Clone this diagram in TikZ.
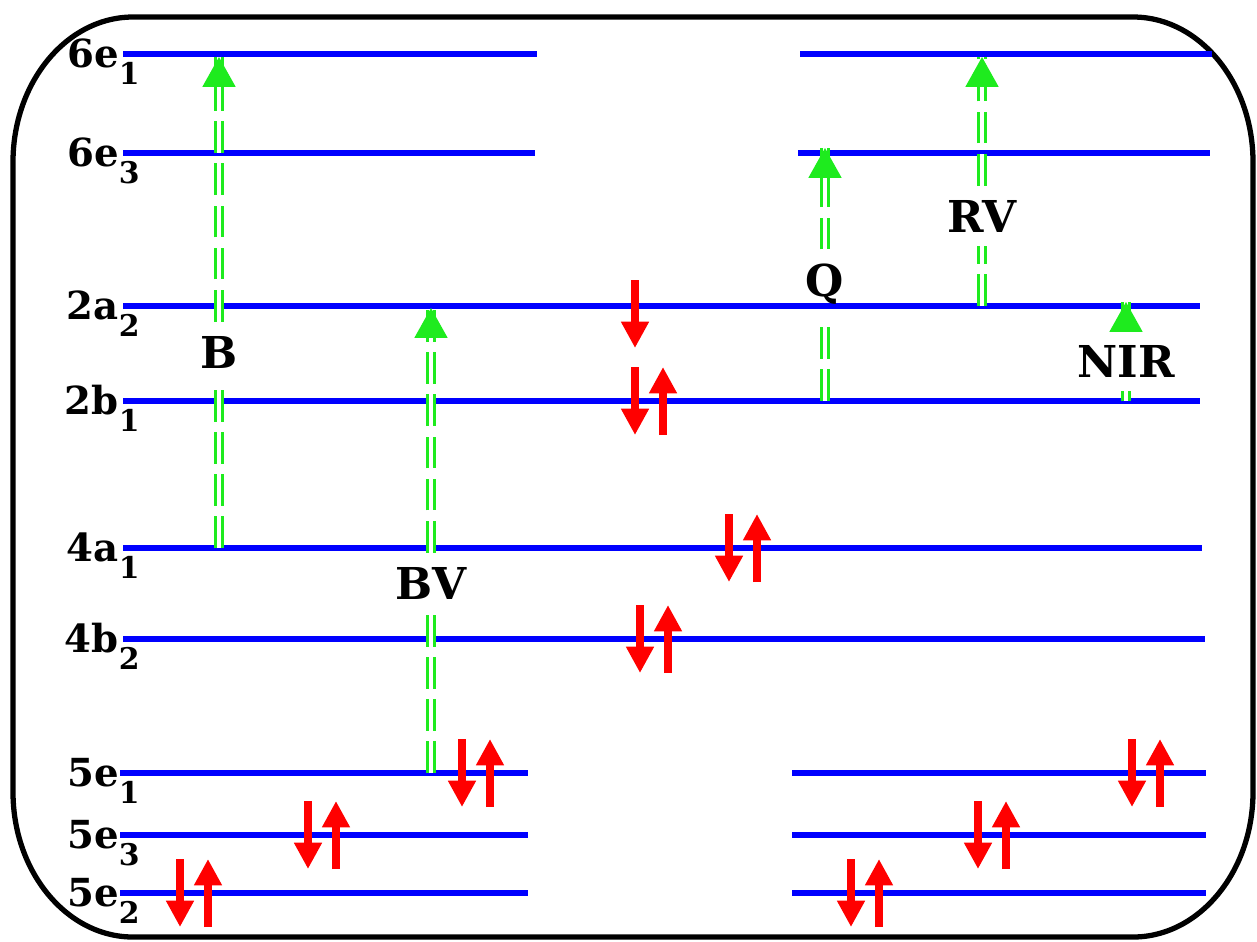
\documentclass[tikz,border=0pt]{standalone}
\usepackage{fontspec}
\setmainfont{DejaVu Serif}
\usepackage{tikz}
\usetikzlibrary{arrows.meta, decorations.markings}

\definecolor{lvlblue}{RGB}{0,0,255}
\definecolor{spinred}{RGB}{255,0,0}
\definecolor{exgreen}{RGB}{30,235,30}

\newcommand{\subsz}{\fontsize{17}{17}\selectfont}

\begin{document}
\begin{tikzpicture}[
  x=0.02cm, y=-0.02cm,
  orbital/.style = {draw=lvlblue, line width=3.8pt},
  lvllab/.style  = {anchor=base east, inner sep=0pt,
                    font=\fontsize{22}{22}\selectfont\bfseries},
  trlab/.style   = {inner xsep=2pt, inner ysep=8pt,
                    font=\fontsize{25}{25}\selectfont\bfseries},
  spin/.style    = {draw=spinred, line width=4.5pt,
                    -{Triangle[length=15pt, width=15pt]}},
  excite/.style  = {draw=exgreen, line width=1.7pt, double=white,
                    double distance=2.5pt, dash pattern=on 18pt off 6pt,
                    postaction={decorate, decoration={markings,
                      mark=at position 1 with
                      {\fill[exgreen] (0pt,0pt) -- (-17pt,9.5pt) -- (-17pt,-9.5pt) -- cycle;}}}}
]
  \useasboundingbox (0,0) rectangle (1257,941);

  % frame
  \draw[line width=3pt]
    (13,162) .. controls (13,82) and (67,17) .. (133,17)
    -- (1133,17) .. controls (1199,17) and (1253,82) .. (1253,162)
    -- (1253,792) .. controls (1253,872) and (1199,937) .. (1133,937)
    -- (133,937) .. controls (67,937) and (13,872) .. (13,792) -- cycle;

  % orbital levels
  \draw[orbital] (123,54)  -- (537,54);
  \draw[orbital] (800,54)  -- (1212,54);
  \draw[orbital] (123,153) -- (535,153);
  \draw[orbital] (798,153) -- (1210,153);
  \draw[orbital] (123,306) -- (1200,306);
  \draw[orbital] (123,401) -- (1200,401);
  \draw[orbital] (123,548) -- (1202,548);
  \draw[orbital] (123,639) -- (1205,639);
  \draw[orbital] (120,773) -- (528,773);
  \draw[orbital] (792,773) -- (1206,773);
  \draw[orbital] (120,835) -- (528,835);
  \draw[orbital] (792,835) -- (1206,835);
  \draw[orbital] (120,893) -- (528,893);
  \draw[orbital] (792,893) -- (1206,893);

  % level labels
  \foreach \nm/\sb/\ly in {6e/1/54, 6e/3/153, 2a/2/306, 2b/1/401, 4a/1/548,
                           4b/2/639, 5e/1/773, 5e/3/835, 5e/2/893}
    \node[lvllab] (lab-\nm\sb) at (140,\ly+13) {\nm\raisebox{-10pt}{\subsz\sb}};

  % electron pairs
  \foreach \sx/\sy in {635/401, 729/548, 640/639, 462/773, 308/835, 180/893,
                       1132/773, 978/835, 851/893} {
    \draw[spin] (\sx,\sy-34) -- (\sx,\sy+34);
    \draw[spin] (\sx+28,\sy+34) -- (\sx+28,\sy-34);
  }
  \draw[spin] (635,280) -- (635,348);

  % transitions
  \coordinate (B-lo)   at (219,548);  \coordinate (B-hi)   at (219,57);
  \coordinate (BV-lo)  at (431,773);  \coordinate (BV-hi)  at (431,308);
  \coordinate (Q-lo)   at (825,401);  \coordinate (Q-hi)   at (825,148);
  \coordinate (RV-lo)  at (982,306);  \coordinate (RV-hi)  at (982,57);
  \coordinate (NIR-lo) at (1126,401); \coordinate (NIR-hi) at (1126,302);

  \node[trlab] (B)   at (219,352)  {B};
  \node[trlab] (BV)  at (431,583)  {BV};
  \node[trlab] (Q)   at (825,284)  {Q};
  \node[trlab] (RV)  at (982,216)  {RV};
  \node[trlab] (NIR) at (1126,361) {NIR};

  \draw[excite] (B-lo)   -- (B)   -- (B-hi);
  \draw[excite] (BV-lo)  -- (BV)  -- (BV-hi);
  \draw[excite] (Q-lo)   -- (Q)   -- (Q-hi);
  \draw[excite] (RV-lo)  -- (RV)  -- (RV-hi);
  \draw[excite] (NIR-lo) -- (NIR) -- (NIR-hi);
\end{tikzpicture}
\end{document}
